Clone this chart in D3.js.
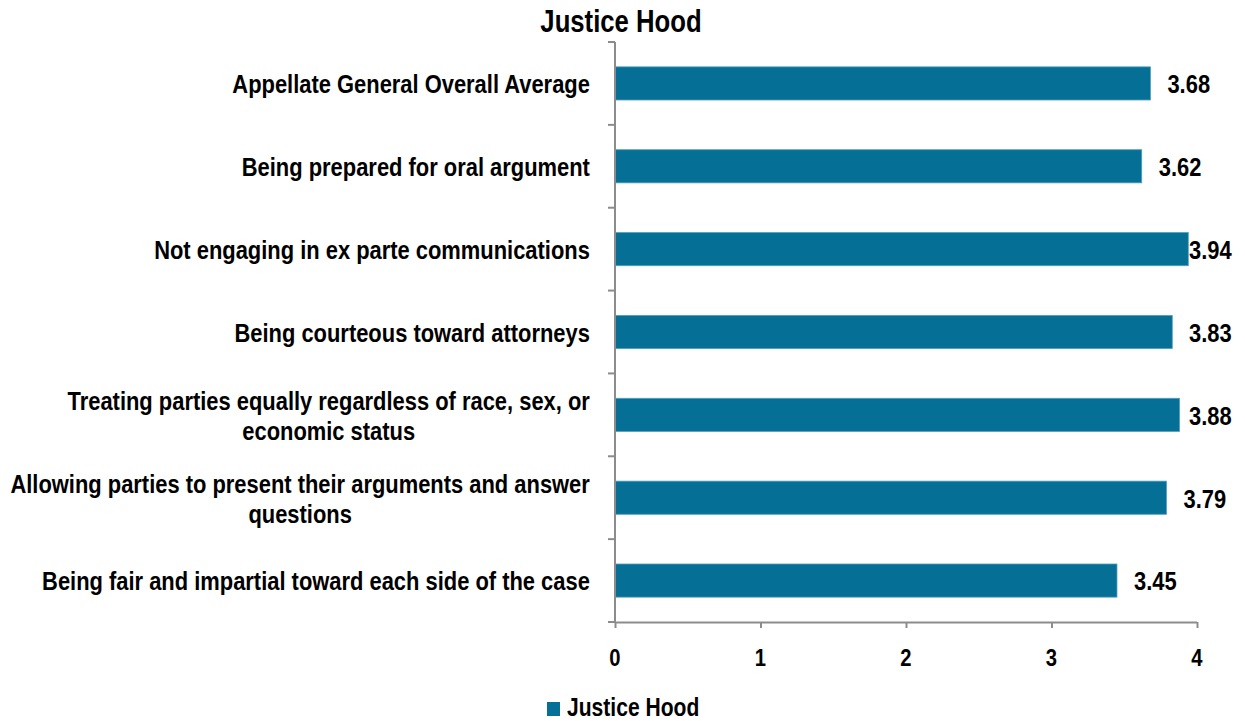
<!DOCTYPE html>
<html><head><meta charset="utf-8">
<script src="https://cdn.jsdelivr.net/npm/d3@7"></script>
<style>
body{margin:0;background:#fff;}
text{font-family:"Liberation Sans",Arial,sans-serif;font-weight:bold;fill:#000;}
</style></head>
<body><svg id="c" width="1245" height="721"></svg>
<script>
const title = "Justice Hood";
const seriesName = "Justice Hood";
const categories = [
  ["Appellate General Overall Average"],
  ["Being prepared for oral argument"],
  ["Not engaging in ex parte communications"],
  ["Being courteous toward attorneys"],
  ["Treating parties equally regardless of race, sex, or", "economic status"],
  ["Allowing parties to present their arguments and answer", "questions"],
  ["Being fair and impartial toward each side of the case"]
];
const values = [3.68, 3.62, 3.94, 3.83, 3.88, 3.79, 3.45];
const xTicks = [0, 1, 2, 3, 4];

const svg = d3.select("#c");
const pLeft = 615, pRight = 1197, pTop = 42, pBottom = 622;
const x = d3.scaleLinear().domain([0, 4]).range([pLeft, pRight]);
const idx = categories.map((d, i) => i);
const y = d3.scaleBand().domain(idx).range([pTop, pBottom]).paddingInner(0.6).paddingOuter(0.3);
const barColor = "#056f95";
const axisColor = "#8c8c8c";
const SX = 0.843; // narrow font emulation

function narrowText(parent, px, py, str, size, anchor) {
  const g = parent.append("g").attr("transform", `translate(${px},${py}) scale(${SX},1)`);
  return g.append("text").attr("x", 0).attr("y", 0).attr("dy", "0.36em")
    .attr("text-anchor", anchor).style("font-size", size + "px").text(str);
}

// title
narrowText(svg, 621, 21, title, 30.5, "middle");

// bars
svg.selectAll("rect.bar").data(values).enter().append("rect")
  .attr("class", "bar")
  .attr("x", x(0)).attr("y", (d, i) => y(i))
  .attr("width", d => x(d) - x(0)).attr("height", y.bandwidth())
  .attr("fill", barColor).attr("stroke", "#4f9fbd").attr("stroke-width", 0.8);

// value labels
values.forEach((d, i) => {
  narrowText(svg, Math.min(x(d) + 17, 1189), y(i) + y.bandwidth() / 2 + 0.5, d.toFixed(2), 26, "start");
});

// x axis
const xAxis = d3.axisBottom(x).tickValues(xTicks).tickSize(6).tickFormat("");
const gx = svg.append("g").attr("transform", `translate(0,${pBottom})`).call(xAxis);
gx.select(".domain").attr("stroke", axisColor).attr("stroke-width", 2).attr("d", `M${pLeft},0.5H${pRight}`);
gx.selectAll(".tick line").attr("stroke", axisColor).attr("stroke-width", 2);
xTicks.forEach(t => narrowText(svg, x(t), 657, String(t), 24, "middle"));

// y axis line and ticks at band boundaries
const step = (pBottom - pTop) / categories.length;
const yTickPos = d3.range(categories.length + 1).map(i => pTop + i * step);
svg.append("line").attr("x1", pLeft).attr("x2", pLeft).attr("y1", pTop).attr("y2", pBottom)
  .attr("stroke", axisColor).attr("stroke-width", 2);
svg.selectAll("line.yt").data(yTickPos).enter().append("line")
  .attr("class", "yt").attr("x1", pLeft - 7).attr("x2", pLeft)
  .attr("y1", d => d).attr("y2", d => d)
  .attr("stroke", axisColor).attr("stroke-width", 2);

// category labels
const labelRight = 590;
categories.forEach((lines, i) => {
  const cy = y(i) + y.bandwidth() / 2 + 0.5;
  const lh = 30;
  const g = svg.append("g");
  const t = g.append("text").attr("text-anchor", "middle").style("font-size", "26px");
  lines.forEach((ln, j) => {
    t.append("tspan").attr("x", 0).attr("y", cy + (j - (lines.length - 1) / 2) * lh).attr("dy", "0.36em").text(ln);
  });
  let maxW = 0;
  t.selectAll("tspan").each(function() { maxW = Math.max(maxW, this.getComputedTextLength()); });
  const cx = labelRight - maxW * SX / 2;
  g.attr("transform", `translate(${cx},0) scale(${SX},1)`);
});

// legend
svg.append("rect").attr("x", 547).attr("y", 702).attr("width", 13).attr("height", 14).attr("fill", barColor);
narrowText(svg, 567, 707, seriesName, 25, "start");
</script></body></html>
